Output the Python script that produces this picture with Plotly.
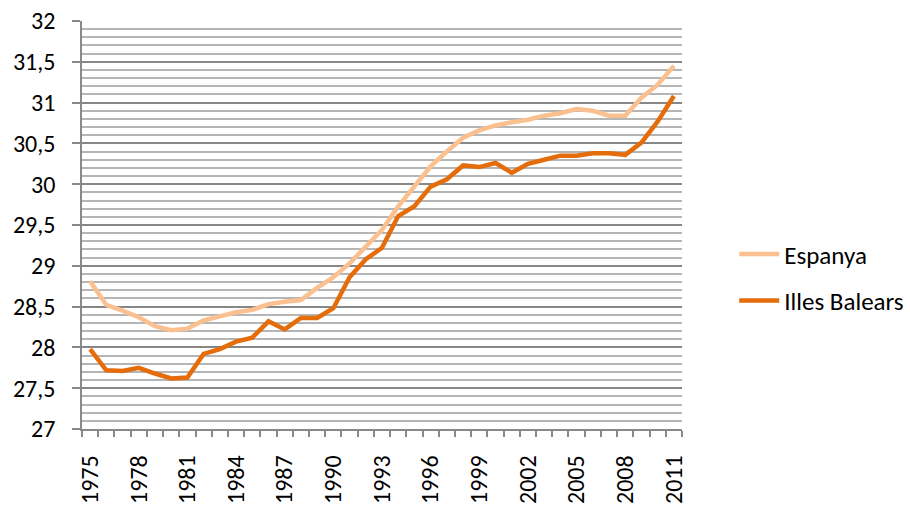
import plotly.graph_objects as go

years = list(range(1975, 2012))
espanya = [28.81, 28.52, 28.45, 28.37, 28.26, 28.21, 28.23, 28.33, 28.38, 28.43,
           28.46, 28.53, 28.56, 28.58, 28.73, 28.86, 29.03, 29.24, 29.44, 29.73,
           29.97, 30.22, 30.40, 30.57, 30.66, 30.72, 30.76, 30.79, 30.84, 30.87,
           30.92, 30.90, 30.84, 30.84, 31.06, 31.22, 31.45]
balears = [27.98, 27.72, 27.71, 27.75, 27.68, 27.62, 27.63, 27.92, 27.98, 28.07,
           28.12, 28.32, 28.22, 28.36, 28.36, 28.48, 28.86, 29.08, 29.22, 29.61,
           29.73, 29.97, 30.06, 30.23, 30.21, 30.26, 30.14, 30.25, 30.30, 30.35,
           30.35, 30.38, 30.38, 30.36, 30.51, 30.77, 31.08]
tick_years = list(range(1975, 2012, 3))
series_names = ["Espanya", "Illes Balears"]

FONT = "Carlito, Lato, 'Open Sans', sans-serif"

fig = go.Figure()
fig.add_trace(go.Scatter(x=years, y=espanya, mode="lines", name=series_names[0],
                         legendgroup="a",
                         line=dict(color="#FAC090", width=4.5)))
fig.add_trace(go.Scatter(x=years, y=balears, mode="lines", name=series_names[1],
                         legendgroup="b",
                         line=dict(color="#E46C0A", width=4.5)))

fig.update_layout(
    width=910, height=509,
    margin=dict(l=82, r=228, t=21, b=80, autoexpand=False),
    paper_bgcolor="white", plot_bgcolor="white",
    separators=",.",
    font=dict(family=FONT, size=24, color="#000000"),
    showlegend=True,
    legend=dict(x=1.087, y=0.372, xanchor="left", yanchor="middle",
                font=dict(family=FONT, size=25, color="#000000"),
                traceorder="grouped", tracegroupgap=11,
                itemwidth=40, bgcolor="rgba(0,0,0,0)"),
)
fig.update_xaxes(
    range=[1974.5, 2011.5], automargin=False, ticklabeloverflow="allow",
    tickmode="array", tickvals=tick_years, ticktext=[str(y) for y in tick_years],
    tickangle=-90, ticks="", showgrid=False, ticklabelstandoff=15,
    showline=True, linecolor="#898989", linewidth=1.5,
    minor=dict(ticks="outside", dtick=1, tick0=1974.5, ticklen=6,
               tickcolor="#898989", tickwidth=1.5, showgrid=False),
    tickfont=dict(family=FONT, size=24, color="#000000"),
    zeroline=False,
)
fig.update_yaxes(
    range=[27, 32], dtick=0.5, tick0=27, automargin=False, ticklabeloverflow="allow",
    ticks="outside", ticklen=8, tickcolor="#898989", tickwidth=1.5,
    ticklabelstandoff=12,
    showgrid=True, gridcolor="#878787", gridwidth=1.5,
    showline=True, linecolor="#898989", linewidth=1.5,
    minor=dict(dtick=0.1, tick0=27, showgrid=True, gridcolor="#B5B5B5", gridwidth=1.5, ticks=""),
    tickfont=dict(family=FONT, size=24, color="#000000"),
    zeroline=False,
)

fig.write_html("out.html", config={"displayModeBar": False},
               post_script="document.body.style.margin='0';")
